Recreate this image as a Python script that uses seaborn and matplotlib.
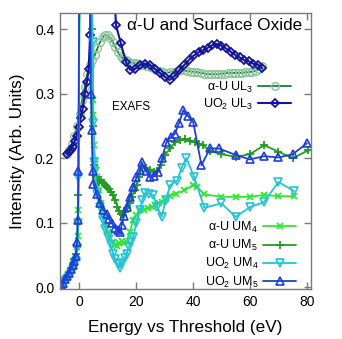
import numpy as np
import pandas as pd
import matplotlib
matplotlib.use("Agg")
import matplotlib.pyplot as plt
import seaborn as sns

# ---------------- data ----------------
aU_L3_x = [-4.3,-3.4,-2.5,-1.6,-0.7,0.2,1.1,2.0,2.9,3.8,4.7,5.6,6.5,7.4,8.3,9.2,10.1,11.0,11.9,12.8,
           13.7,14.6,15.5,16.4,17.3,18.2,19.1,20.0,21.2,22.4,23.6,24.8,26.0,27.2,28.4,29.6,30.8,32.0,
           33.2,34.4,35.6,36.8,38.0,39.2,40.4,41.6,42.8,44.0,45.2,46.4,47.6,48.8,50.0,51.2,52.4,53.6,
           54.8,56.0,57.2,58.4,59.6,60.8,62.0,63.2,64.2]
aU_L3_y = [0.207,0.213,0.222,0.235,0.250,0.268,0.290,0.310,0.330,0.345,0.352,0.360,0.370,0.380,0.387,0.391,
           0.390,0.386,0.380,0.372,0.364,0.358,0.354,0.352,0.350,0.348,0.347,0.347,0.346,0.345,0.343,0.341,
           0.339,0.337,0.335,0.333,0.332,0.333,0.334,0.335,0.336,0.336,0.335,0.334,0.334,0.333,0.332,0.331,
           0.330,0.330,0.330,0.330,0.331,0.331,0.332,0.332,0.332,0.332,0.332,0.333,0.333,0.334,0.335,0.338,0.342]

UO2_L3_x = [-4.3,-3.6,-2.9,-2.2,-1.5,-0.8,-0.1,0.6,1.3,2.1,2.8,3.4,3.9,4.6,6.0,8.0,10.0,12.0,13.0,14.7,
            16.5,17.9,19.6,21.4,23.2,25.0,26.7,28.4,30.1,31.8,33.5,35.2,36.9,38.6,40.3,42.0,43.6,45.2,
            46.8,48.4,50.0,51.6,53.2,54.8,56.4,58.0,59.6,61.2,62.8,64.3]
UO2_L3_y = [0.206,0.209,0.213,0.218,0.226,0.235,0.248,0.262,0.276,0.299,0.318,0.338,0.390,0.550,0.700,0.800,
            0.700,0.500,0.406,0.378,0.349,0.337,0.338,0.344,0.346,0.344,0.338,0.332,0.326,0.321,0.327,0.336,
            0.344,0.352,0.359,0.364,0.367,0.371,0.375,0.377,0.374,0.370,0.365,0.360,0.356,0.352,0.350,0.346,
            0.345,0.339]

aU_M4_x = [-6.3,-5.6,-4.9,-4.2,-3.5,-2.8,-2.2,-1.6,-1.1,-0.7,-0.4,-0.2,0.5,2.0,3.5,4.5,4.8,5.0,5.3,5.7,
           6.3,7.0,7.8,8.6,9.4,10.2,11.0,11.8,12.6,13.4,14.2,15.0,15.8,16.7,17.8,19.0,20.2,21.4,22.8,24.3,
           25.6,26.7,28.0,29.0,30.5,32.0,34.0,37.0,40.0,41.5,44.0,50.0,55.0,60.0,65.0,70.0,75.5]
aU_M4_y = [0.004,0.008,0.012,0.016,0.021,0.026,0.031,0.037,0.045,0.062,0.080,0.120,0.700,1.100,0.900,0.500,
           0.290,0.267,0.220,0.197,0.170,0.150,0.130,0.112,0.097,0.085,0.077,0.070,0.065,0.064,0.068,0.071,
           0.068,0.070,0.085,0.104,0.112,0.119,0.120,0.122,0.124,0.127,0.130,0.132,0.137,0.142,0.145,0.150,
           0.158,0.155,0.144,0.140,0.140,0.140,0.143,0.141,0.141]

aU_M5_x = [-6.3,-5.6,-4.9,-4.2,-3.5,-2.8,-2.2,-1.6,-1.1,-0.7,-0.4,-0.2,0.5,2.0,3.5,4.6,5.0,5.4,5.9,6.5,
           7.2,7.9,8.6,9.3,10.0,10.7,11.4,12.1,12.8,13.5,14.2,14.9,15.6,16.3,17.0,17.8,18.6,19.5,20.3,21.2,
           22.0,23.5,25.0,26.3,27.5,28.8,30.2,32.0,33.7,35.5,37.2,39.0,40.7,42.0,43.5,46.0,50.0,55.0,60.0,
           65.0,70.0,75.0,80.5]
aU_M5_y = [0.006,0.010,0.014,0.019,0.024,0.030,0.036,0.043,0.052,0.062,0.100,0.143,0.750,1.000,0.850,0.400,
           0.250,0.190,0.170,0.165,0.163,0.166,0.162,0.158,0.155,0.152,0.148,0.143,0.135,0.125,0.118,0.114,
           0.112,0.116,0.122,0.130,0.140,0.150,0.158,0.170,0.187,0.184,0.181,0.179,0.180,0.190,0.205,0.215,
           0.225,0.228,0.230,0.227,0.225,0.222,0.220,0.211,0.206,0.202,0.206,0.220,0.210,0.200,0.212]

UO2_M4_x = [-6.3,-5.6,-4.9,-4.2,-3.5,-2.8,-2.2,-1.6,-1.1,-0.7,-0.4,-0.2,0.6,2.0,3.5,4.4,4.8,5.1,5.4,5.8,
            6.2,7.3,8.4,9.3,10.2,11.1,12.0,12.8,13.6,14.4,15.2,16.0,16.7,17.5,18.3,19.0,20.2,21.4,22.3,23.2,
            24.5,26.0,27.5,29.0,30.5,32.0,34.5,36.0,37.7,40.5,44.0,50.0,55.0,60.0,65.0,70.0,75.5]
UO2_M4_y = [0.002,0.005,0.009,0.013,0.017,0.022,0.027,0.033,0.040,0.060,0.100,0.170,0.800,1.100,1.000,0.600,
            0.380,0.254,0.194,0.180,0.145,0.125,0.104,0.090,0.078,0.065,0.052,0.043,0.036,0.030,0.038,0.045,
            0.052,0.062,0.070,0.078,0.100,0.120,0.135,0.146,0.145,0.143,0.125,0.109,0.135,0.158,0.165,0.185,
            0.200,0.170,0.123,0.130,0.109,0.124,0.132,0.163,0.149]

UO2_M5_x = [-6.3,-5.6,-4.9,-4.2,-3.5,-2.8,-2.2,-1.6,-1.1,-0.7,-0.4,-0.2,0.5,1.8,3.0,3.8,4.2,4.5,4.8,5.1,
            6.2,7.4,8.5,9.7,10.6,11.5,12.6,13.7,14.4,15.0,15.8,16.7,17.8,19.0,20.2,21.4,22.0,23.5,25.0,26.5,
            27.8,29.2,30.7,32.2,33.7,35.2,36.6,38.3,40.1,43.0,46.0,49.0,55.0,60.0,65.0,70.0,75.0,80.0]
UO2_M5_y = [0.004,0.007,0.012,0.017,0.022,0.028,0.034,0.040,0.048,0.070,0.104,0.180,0.850,1.100,0.900,0.500,
            0.300,0.243,0.180,0.160,0.145,0.130,0.120,0.114,0.105,0.099,0.092,0.088,0.085,0.096,0.110,0.125,
            0.140,0.156,0.170,0.181,0.194,0.180,0.170,0.172,0.179,0.200,0.225,0.232,0.238,0.255,0.274,0.265,
            0.256,0.189,0.215,0.215,0.205,0.198,0.203,0.201,0.206,0.223]

x_ticks = [0, 20, 40, 60, 80]
y_ticks = [0.0, 0.1, 0.2, 0.3, 0.4]
y_tick_labels = ["0.0", "0.1", "0.2", "0.3", "0.4"]

label_aU_L3 = r"α-U UL$\mathregular{_3}$"
label_UO2_L3 = r"UO$\mathregular{_2}$ UL$\mathregular{_3}$"
label_aU_M4 = r"α-U UM$\mathregular{_4}$"
label_aU_M5 = r"α-U UM$\mathregular{_5}$"
label_UO2_M4 = r"UO$\mathregular{_2}$ UM$\mathregular{_4}$"
label_UO2_M5 = r"UO$\mathregular{_2}$ UM$\mathregular{_5}$"

# ---------------- style ----------------
sns.set_style("ticks")
plt.rcParams['font.family'] = ['Liberation Sans', 'DejaVu Sans']
plt.rcParams['mathtext.fontset'] = 'custom'
plt.rcParams['mathtext.rm'] = 'Liberation Sans'
plt.rcParams['text.color'] = 'black'
plt.rcParams['axes.labelcolor'] = 'black'
plt.rcParams['xtick.labelcolor'] = 'black'
plt.rcParams['ytick.labelcolor'] = 'black'

fig = plt.figure(figsize=(3.42, 3.39), dpi=100)
ax = fig.add_axes([0.175, 0.147, 0.734, 0.815])

def draw(xs, ys, color, marker, ms, mfc, mec, label, lw=1.3, mew=1.0):
    assert len(xs) == len(ys), label
    df = pd.DataFrame({"x": xs, "y": ys})
    sns.lineplot(data=df, x="x", y="y", ax=ax, color=color, marker=marker,
                 markersize=ms, markerfacecolor=mfc, markeredgecolor=mec,
                 markeredgewidth=mew, linewidth=lw, sort=False, estimator=None,
                 label=label, legend=False)
    return ax.lines[-1]

c_aUL3_line = '#1b7f3a'
c_aUL3_mk = '#8cc49c'
c_UO2L3 = '#14149e'
c_aUM4 = '#33e633'
c_aUM5 = '#1f9e1f'
c_UO2M4 = '#25c4d4'
c_UO2M5 = '#1e3fd8'

h1 = draw(aU_L3_x, aU_L3_y, c_aUL3_line, 'o', 5.5, 'none', c_aUL3_mk, label_aU_L3, lw=1.3)
h2 = draw(UO2_L3_x, UO2_L3_y, c_UO2L3, 'D', 4.5, 'none', c_UO2L3, label_UO2_L3, lw=1.5, mew=1.3)
h3 = draw(aU_M4_x, aU_M4_y, c_aUM4, 'x', 5, c_aUM4, c_aUM4, label_aU_M4, lw=1.3, mew=1.3)
h4 = draw(aU_M5_x, aU_M5_y, c_aUM5, '+', 6, c_aUM5, c_aUM5, label_aU_M5, lw=1.3, mew=1.3)
h5 = draw(UO2_M4_x, UO2_M4_y, c_UO2M4, 'v', 5.5, 'none', c_UO2M4, label_UO2_M4, lw=1.3, mew=1.2)
h6 = draw(UO2_M5_x, UO2_M5_y, c_UO2M5, '^', 5.5, 'none', c_UO2M5, label_UO2_M5, lw=1.3, mew=1.2)

ax.set_xlim(-6.7, 81.4)
ax.set_ylim(-0.003, 0.425)
ax.set_xticks(x_ticks)
ax.set_xticklabels([str(t) for t in x_ticks])
ax.set_yticks(y_ticks)
ax.set_yticklabels(y_tick_labels)

spine_c = '#7a7a7a'
for s in ax.spines.values():
    s.set_color(spine_c)
    s.set_linewidth(1.0)
ax.tick_params(direction='in', length=5, width=1.0, color=spine_c,
               top=True, right=True, labelsize=10, labelcolor='black', pad=4)

ax.set_xlabel("Energy vs Threshold (eV)", fontsize=12.3, labelpad=8, color='black')
ax.set_ylabel("Intensity (Arb. Units)", fontsize=12.3, labelpad=7, color='black')

ax.text(16.8, 0.398, "α-U and Surface Oxide", fontsize=12.3, ha='left', va='baseline', color='black')
ax.text(11.5, 0.279, "EXAFS", fontsize=8.4, ha='left', va='center', color='black')

leg1 = ax.legend(handles=[h1, h2], labels=[label_aU_L3, label_UO2_L3], loc='center right',
                 bbox_to_anchor=(0.955, 0.70), frameon=False, markerfirst=False,
                 fontsize=9, handlelength=2.6, handletextpad=0.4, labelspacing=0.15,
                 borderpad=0.2, labelcolor='black')
ax.add_artist(leg1)
leg2 = ax.legend(handles=[h3, h4, h5, h6],
                 labels=[label_aU_M4, label_aU_M5, label_UO2_M4, label_UO2_M5],
                 loc='center right', bbox_to_anchor=(0.975, 0.125), frameon=False,
                 markerfirst=False, fontsize=9, handlelength=2.6, handletextpad=0.4,
                 labelspacing=0.25, borderpad=0.2, labelcolor='black')

fig.savefig("out.png", dpi=100)
